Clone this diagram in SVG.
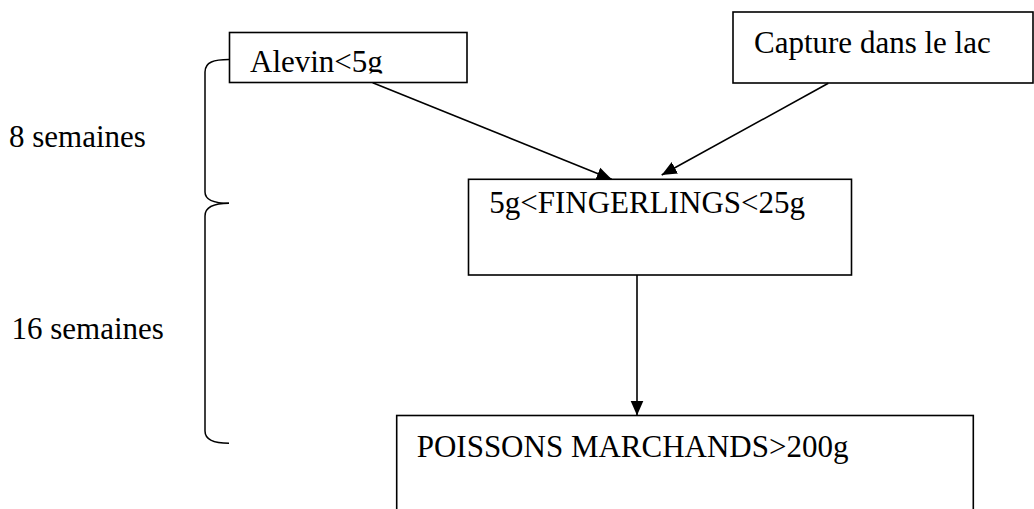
<svg xmlns="http://www.w3.org/2000/svg" width="1034" height="509" viewBox="0 0 1034 509">
<style>
  .box { fill: #ffffff; stroke: #000000; stroke-width: 1.6; }
  .lbl { font-family: "Liberation Serif", "Times New Roman", serif; font-size: 31px; fill: #000000; }
  .edge { stroke: #000000; stroke-width: 1.6; fill: none; }
  .brace { stroke: #000000; stroke-width: 1.5; fill: none; }
</style>
<defs>
  <marker id="arrow" markerUnits="userSpaceOnUse" markerWidth="17" markerHeight="14" refX="15" refY="7" orient="auto">
    <path d="M0,0.5 L15,7 L0,13.5 Z" fill="#000000"/>
  </marker>
  <clipPath id="clipAlevin">
    <rect x="229" y="32" width="238" height="41.5"/>
  </clipPath>
</defs>

<rect width="1034" height="509" fill="#ffffff"/>

<g id="brace">
  <path class="brace" d="M229,59.5 C214,59.5 205,62 205,72 L205,192 C205,200 214,203.3 229,203.3"/>
  <path class="brace" d="M229,203.3 C214,203.3 205,207 205,216 L205,431 C205,440 214,443.3 229,443.3"/>
</g>

<g id="label-8-semaines">
  <text class="lbl" x="9" y="146.5">8 semaines</text>
</g>
<g id="label-16-semaines">
  <text class="lbl" x="11.5" y="339">16 semaines</text>
</g>

<g id="node-alevin">
  <rect class="box" x="229.5" y="32.5" width="237.5" height="50"/>
  <text class="lbl" x="250" y="72.3" clip-path="url(#clipAlevin)">Alevin&lt;5g</text>
</g>

<g id="node-capture">
  <rect class="box" x="733" y="12" width="300" height="71"/>
  <text class="lbl" x="754" y="53.3">Capture dans le lac</text>
</g>

<g id="node-fingerlings">
  <rect class="box" x="468.5" y="179.3" width="383" height="95.7"/>
  <text class="lbl" x="489.3" y="213.3">5g&lt;FINGERLINGS&lt;25g</text>
</g>

<g id="node-poissons">
  <rect class="box" x="396.7" y="415.5" width="576.6" height="100"/>
  <text class="lbl" x="416.7" y="457.3">POISSONS MARCHANDS&gt;200g</text>
</g>

<g id="connectors">
  <line class="edge" x1="372.7" y1="82.7" x2="611.7" y2="179.3" marker-end="url(#arrow)"/>
  <line class="edge" x1="828.3" y1="83.3" x2="661.7" y2="175" marker-end="url(#arrow)"/>
  <line class="edge" x1="637" y1="275" x2="637" y2="415.5" marker-end="url(#arrow)"/>
</g>
</svg>
